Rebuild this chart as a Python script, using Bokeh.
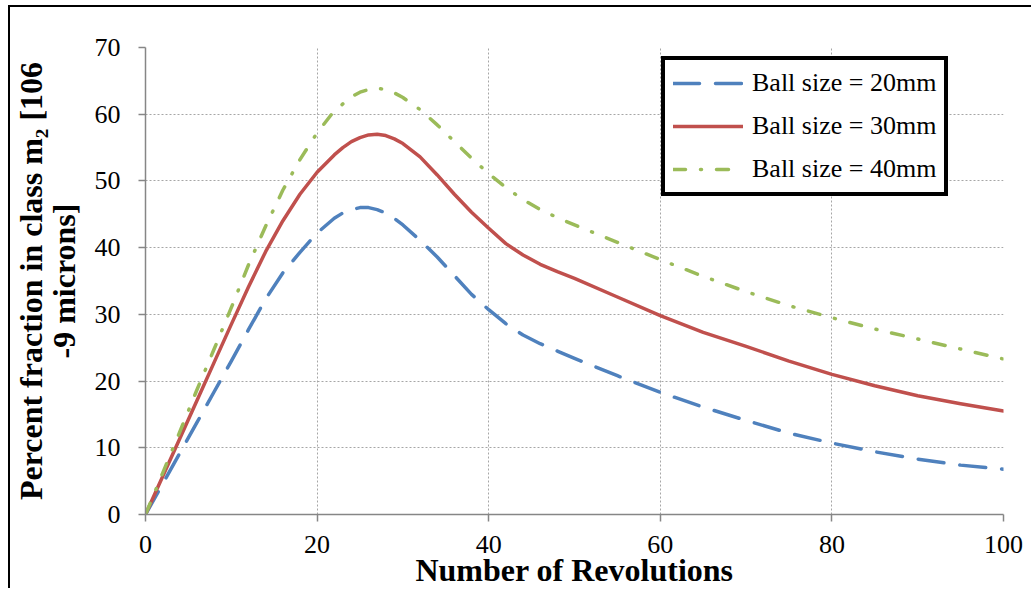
from bokeh.plotting import figure
from bokeh.models import Range1d, SingleIntervalTicker, Legend, LegendItem
from bokeh.embed import file_html
from bokeh.resources import INLINE

# ---- data ----
revs_20 = [0, 2, 4, 6, 8, 10, 12, 14, 16, 18, 20, 22, 23, 24, 25, 26, 27, 28, 29, 30, 32, 34, 36, 38,
           40, 42, 44, 46, 48, 50, 55, 60, 65, 70, 75, 80, 85, 90, 95, 100]
frac_20 = [0, 4.6, 9.2, 13.8, 18.4, 23.0, 27.7, 32.3, 36.2, 39.3, 42.2, 44.4, 45.2, 45.7, 46.0, 46.0,
           45.7, 45.2, 44.4, 43.4, 41.1, 38.6, 35.8, 33.0, 30.7, 28.6, 26.9, 25.6, 24.5, 23.4, 20.8,
           18.3, 16.1, 14.1, 12.2, 10.7, 9.4, 8.3, 7.4, 6.8]

revs_30 = [0, 2, 4, 6, 8, 10, 12, 14, 16, 18, 20, 22, 23, 24, 25, 26, 27, 28, 29, 30, 32, 34, 36, 38,
           40, 42, 44, 46, 48, 50, 55, 60, 65, 70, 75, 80, 85, 90, 95, 100]
frac_30 = [0, 5.7, 11.4, 17.1, 22.8, 28.5, 34.1, 39.4, 44.0, 48.0, 51.3, 53.9, 55.0, 55.9, 56.5, 56.9,
           57.0, 56.8, 56.3, 55.6, 53.6, 50.9, 48.0, 45.3, 42.9, 40.6, 38.9, 37.5, 36.4, 35.4, 32.6,
           29.8, 27.3, 25.2, 23.0, 21.0, 19.3, 17.8, 16.6, 15.5]

revs_40 = [0, 2, 4, 6, 8, 10, 12, 14, 16, 18, 20, 22, 24, 25, 26, 27, 28, 29, 30, 32, 34, 36, 38,
           40, 42, 44, 46, 48, 50, 55, 60, 65, 70, 75, 80, 85, 90, 95, 100]
frac_40 = [0, 6.2, 12.4, 18.7, 24.8, 31.0, 37.4, 43.2, 48.6, 53.2, 57.2, 60.5, 62.6, 63.3, 63.7, 63.9,
           63.7, 63.2, 62.5, 60.7, 58.4, 55.9, 53.4, 51.1, 49.0, 47.2, 45.7, 44.5, 43.4, 40.8, 38.2,
           35.7, 33.4, 31.3, 29.5, 27.8, 26.3, 24.8, 23.3]

series_labels = ["Ball size = 20mm", "Ball size = 30mm", "Ball size = 40mm"]
x_title = "Number of Revolutions"
y_title = "Percent fraction in class m\u2082 [106\n-9 microns]"
x_ticks_step = 20
y_ticks_step = 10

FONT = "Liberation Serif"

p = figure(width=1023, height=583, output_backend="svg", toolbar_location=None,
           x_range=Range1d(0, 100), y_range=Range1d(0, 70),
           min_border_left=120, min_border_right=30, min_border_top=40, min_border_bottom=76,
           background_fill_color="white", border_fill_color="white")
p.styles = {"margin-left": "8px", "margin-top": "5px",
            "border-left": "2px solid black", "border-top": "2px solid black"}
p.outline_line_color = None

p.xaxis.ticker = SingleIntervalTicker(interval=x_ticks_step)
p.yaxis.ticker = SingleIntervalTicker(interval=y_ticks_step)
for ax in (p.xaxis, p.yaxis):
    ax.axis_line_color = "#868686"
    ax.axis_line_width = 1.5
    ax.major_tick_line_color = "#868686"
    ax.major_tick_line_width = 1.5
    ax.major_tick_in = 0
    ax.major_tick_out = 7
    ax.minor_tick_line_color = None
    ax.major_label_text_font = FONT
    ax.major_label_text_font_size = "26px"
    ax.major_label_text_color = "black"
    ax.axis_label_text_font = FONT
    ax.axis_label_text_font_size = "32px"
    ax.axis_label_text_font_style = "bold"
    ax.axis_label_text_color = "black"
    ax.axis_label_text_line_height = 0.9
p.xaxis.major_label_standoff = 14
p.yaxis.major_label_standoff = 18
p.xaxis.axis_label = x_title
p.yaxis.axis_label = y_title
p.xaxis.axis_label_standoff = -4
p.yaxis.axis_label_standoff = 10

p.grid.grid_line_color = "#a6a6a6"
p.grid.grid_line_width = 1
p.grid.grid_line_dash = "2 2"

r20 = p.line(revs_20, frac_20, line_color="#4F81BD", line_width=3.5, line_dash="26 16",
             line_cap="round", line_join="round")
r30 = p.line(revs_30, frac_30, line_color="#C0504D", line_width=3.5,
             line_cap="round", line_join="round")
r40 = p.line(revs_40, frac_40, line_color="#9BBB59", line_width=3.5, line_dash="12 15 1 15",
             line_cap="round", line_join="round")

legend = Legend(items=[LegendItem(label=series_labels[0], renderers=[r20]),
                       LegendItem(label=series_labels[1], renderers=[r30]),
                       LegendItem(label=series_labels[2], renderers=[r40])],
                location=(516, 318), margin=0, padding=8, spacing=13,
                label_height=30, glyph_height=30, glyph_width=70, label_standoff=9,
                label_text_font=FONT, label_text_font_size="26px", label_text_color="black",
                border_line_color="black", border_line_width=4, border_line_alpha=1,
                background_fill_color="white", background_fill_alpha=1)
p.add_layout(legend, "center")

open("out.html", "w").write(file_html(p, INLINE))
